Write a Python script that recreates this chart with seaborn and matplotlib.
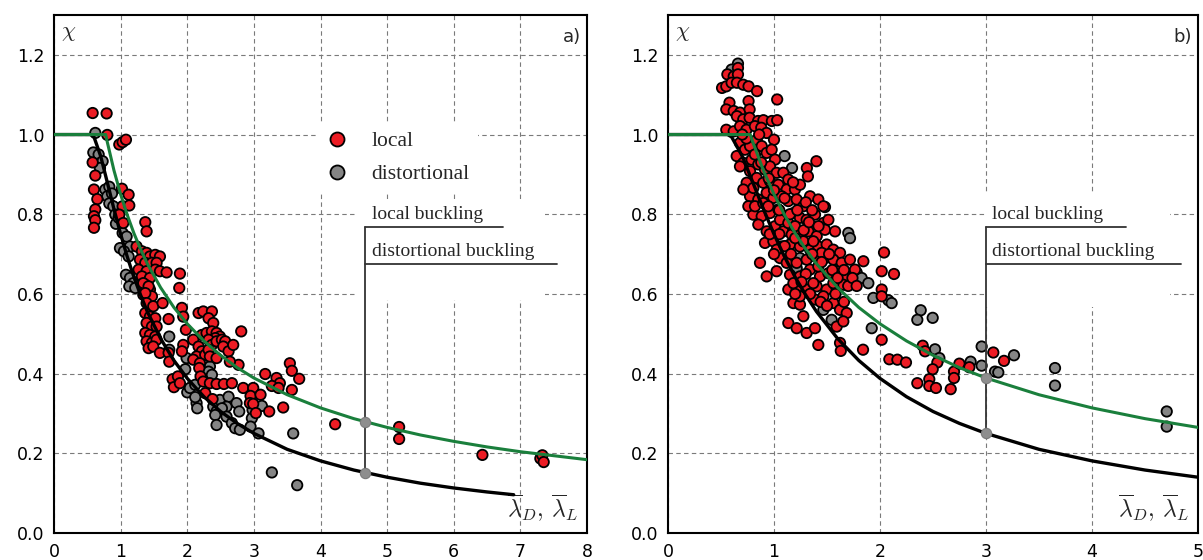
import numpy as np
import pandas as pd
import matplotlib
matplotlib.use("Agg")
import matplotlib.pyplot as plt
from matplotlib.patches import Rectangle
import seaborn as sns

# ---------------- data ----------------
# design curves
lam_L = [0, 0.776, 0.8, 0.9, 1.0, 1.1, 1.2, 1.3, 1.4, 1.6, 1.8, 2.0, 2.25, 2.5, 2.75,
         3.0, 3.5, 4.0, 4.5, 5.0, 5.5, 6.0, 6.5, 7.0, 7.5, 8.0]
chi_L = [1.0, 1.0, 0.981, 0.910, 0.850, 0.798, 0.752, 0.712, 0.676, 0.616, 0.566, 0.525,
         0.482, 0.446, 0.415, 0.389, 0.347, 0.314, 0.287, 0.265, 0.246, 0.230, 0.216,
         0.204, 0.194, 0.184]
lam_D = [0, 0.561, 0.6, 0.7, 0.8, 0.9, 1.0, 1.1, 1.2, 1.3, 1.4, 1.6, 1.8, 2.0, 2.25,
         2.5, 2.75, 3.0, 3.5, 4.0, 4.5, 5.0, 5.5, 6.0, 6.5, 6.9]
chi_D = [1.0, 1.0, 0.994, 0.946, 0.880, 0.813, 0.750, 0.693, 0.642, 0.597, 0.556, 0.488,
         0.433, 0.388, 0.342, 0.305, 0.275, 0.250, 0.210, 0.181, 0.158, 0.140, 0.125,
         0.113, 0.103, 0.096]

# marked slenderness with the values on both curves
mark_a = (4.67, 0.279, 0.151)
mark_b = (3.0, 0.389, 0.250)

a_local = [
    (0.58, 1.054), (0.79, 1.053), (0.80, 0.999), (0.98, 0.975), (1.03, 0.981), (1.08, 0.987),
    (0.58, 0.930), (0.62, 0.897), (0.60, 0.862), (0.65, 0.838), (0.62, 0.812), (0.60, 0.795),
    (0.62, 0.785), (0.60, 0.766), (1.02, 0.864), (1.12, 0.849), (1.03, 0.820), (1.13, 0.822),
    (0.98, 0.799), (1.04, 0.778), (1.37, 0.780), (1.39, 0.757), (1.24, 0.719), (1.32, 0.707),
    (1.39, 0.703), (1.44, 0.694), (1.52, 0.698), (1.59, 0.694), (1.29, 0.686), (1.37, 0.678),
    (1.47, 0.678), (1.54, 0.678), (1.27, 0.661), (1.39, 0.657), (1.52, 0.661), (1.59, 0.657),
    (1.69, 0.654), (1.32, 0.644), (1.44, 0.640), (1.37, 0.623), (1.44, 0.611), (1.34, 0.598),
    (1.47, 0.594), (1.89, 0.651), (1.88, 0.615), (1.34, 0.627), (1.42, 0.619), (1.37, 0.602),
    (1.39, 0.577), (1.49, 0.569), (1.37, 0.552), (1.44, 0.543), (1.52, 0.539), (1.39, 0.527),
    (1.47, 0.518), (1.54, 0.518), (1.37, 0.502), (1.44, 0.497), (1.52, 0.493), (1.39, 0.481),
    (1.47, 0.477), (1.54, 0.485), (1.42, 0.464), (1.49, 0.468), (1.63, 0.577), (1.92, 0.565),
    (1.94, 0.543), (1.72, 0.537), (1.59, 0.452), (1.72, 0.452), (1.73, 0.430), (1.98, 0.510),
    (2.17, 0.552), (2.24, 0.556), (2.37, 0.556), (2.32, 0.539), (2.39, 0.527), (2.81, 0.506),
    (2.22, 0.497), (2.29, 0.502), (2.37, 0.506), (2.44, 0.502), (2.49, 0.493), (2.42, 0.489),
    (2.32, 0.485), (2.37, 0.472), (2.44, 0.481), (2.52, 0.485), (2.57, 0.481), (2.54, 0.468),
    (2.62, 0.456), (2.69, 0.472), (2.09, 0.485), (2.17, 0.468), (2.22, 0.456), (2.14, 0.443),
    (2.27, 0.447), (2.32, 0.460), (2.34, 0.443), (2.09, 0.435), (2.19, 0.426), (2.44, 0.439),
    (2.77, 0.422), (2.64, 0.430), (1.94, 0.472), (1.92, 0.456), (2.18, 0.414), (2.20, 0.393),
    (2.24, 0.380), (2.34, 0.376), (2.44, 0.374), (2.55, 0.374), (2.67, 0.376), (2.84, 0.364),
    (1.78, 0.386), (1.86, 0.393), (1.80, 0.366), (1.89, 0.376), (2.27, 0.351), (2.38, 0.336),
    (2.99, 0.364), (2.95, 0.344), (3.10, 0.347), (2.94, 0.326), (2.99, 0.324), (3.03, 0.301),
    (3.23, 0.305), (3.44, 0.315), (3.17, 0.399), (3.34, 0.389), (3.39, 0.376), (3.27, 0.369),
    (3.37, 0.364), (3.54, 0.426), (3.57, 0.407), (3.68, 0.387), (3.57, 0.359), (4.22, 0.273),
    (5.18, 0.266), (5.18, 0.236), (6.43, 0.196), (7.30, 0.187), (7.33, 0.195), (7.35, 0.178),
]
a_dist = [
    (0.62, 1.004), (0.59, 0.955), (0.67, 0.950), (0.70, 0.929), (0.73, 0.933), (0.69, 0.916),
    (0.77, 0.862), (0.83, 0.869), (0.80, 0.845), (0.87, 0.852), (0.83, 0.827), (0.89, 0.820),
    (0.92, 0.799), (0.93, 0.776), (0.97, 0.791), (1.03, 0.753), (1.09, 0.744), (1.14, 0.719),
    (0.99, 0.715), (1.05, 0.707), (1.12, 0.694), (1.08, 0.648), (1.14, 0.640), (1.19, 0.627),
    (1.13, 0.619), (1.22, 0.615), (1.73, 0.493), (1.73, 0.460), (1.99, 0.439), (1.97, 0.411),
    (2.29, 0.430), (2.34, 0.418), (2.32, 0.405), (2.37, 0.397), (2.00, 0.353), (2.04, 0.364),
    (2.12, 0.372), (2.14, 0.326), (2.15, 0.313), (2.12, 0.341), (2.39, 0.317), (2.44, 0.305),
    (2.49, 0.334), (2.62, 0.342), (2.59, 0.317), (2.52, 0.313), (2.42, 0.296), (2.44, 0.271),
    (2.59, 0.292), (2.67, 0.276), (2.72, 0.263), (2.79, 0.259), (2.74, 0.326), (2.78, 0.305),
    (2.98, 0.309), (3.12, 0.319), (2.97, 0.288), (2.95, 0.267), (3.07, 0.250), (3.59, 0.250),
    (3.27, 0.152), (3.65, 0.120),
]
b_local = [
    (0.66, 1.167), (0.56, 1.151), (0.62, 1.146), (0.66, 1.151), (0.51, 1.117), (0.55, 1.121),
    (0.60, 1.130), (0.65, 1.130), (0.71, 1.125), (0.76, 1.121), (0.84, 1.109), (1.03, 1.088),
    (0.58, 1.080), (0.76, 1.084), (0.55, 1.063), (0.62, 1.059), (0.68, 1.055), (0.77, 1.063),
    (0.65, 1.046), (0.71, 1.038), (0.77, 1.042), (0.85, 1.034), (0.90, 1.036), (0.98, 1.034),
    (1.03, 1.036), (0.55, 1.012), (0.62, 1.008), (0.68, 1.021), (0.74, 1.012), (0.82, 1.021),
    (0.88, 1.017), (0.93, 1.004), (1.00, 0.987), (1.40, 0.933), (1.31, 0.916), (1.32, 0.895),
    (0.679, 0.979), (0.726, 0.962), (0.774, 0.971), (0.837, 0.987), (0.884, 0.971), (0.931, 0.954),
    (0.978, 0.962), (1.010, 0.937), (0.648, 0.946), (0.711, 0.929), (0.789, 0.937), (0.852, 0.925),
    (0.915, 0.912), (0.962, 0.920), (1.025, 0.904), (1.088, 0.904), (1.135, 0.887), (0.679, 0.920),
    (0.774, 0.908), (0.837, 0.891), (0.899, 0.879), (0.962, 0.883), (1.041, 0.874), (1.120, 0.862),
    (1.198, 0.862), (1.245, 0.874), (0.774, 0.845), (0.852, 0.837), (0.931, 0.854), (0.994, 0.841),
    (1.072, 0.845), (1.135, 0.833), (1.214, 0.837), (1.277, 0.820), (1.340, 0.845), (1.418, 0.837),
    (1.466, 0.820), (0.805, 0.799), (0.884, 0.795), (0.962, 0.803), (1.041, 0.812), (1.104, 0.795),
    (1.183, 0.803), (1.245, 0.791), (1.308, 0.786), (1.387, 0.799), (1.466, 0.778), (1.513, 0.786),
    (0.852, 0.774), (0.931, 0.757), (1.010, 0.770), (1.088, 0.757), (1.167, 0.749), (1.245, 0.753),
    (1.324, 0.757), (1.403, 0.745), (1.481, 0.761), (1.576, 0.757), (0.915, 0.728), (0.994, 0.732),
    (1.072, 0.719), (1.151, 0.724), (1.245, 0.719), (1.340, 0.711), (1.418, 0.719), (1.497, 0.724),
    (1.560, 0.711), (1.623, 0.703), (0.868, 0.678), (1.057, 0.690), (1.120, 0.678), (1.214, 0.678),
    (1.308, 0.686), (1.387, 0.694), (1.481, 0.690), (1.560, 0.686), (1.639, 0.678), (1.717, 0.686),
    (1.843, 0.682), (1.025, 0.657), (0.931, 0.644), (1.151, 0.648), (1.245, 0.644), (1.340, 0.661),
    (1.434, 0.644), (1.513, 0.652), (1.591, 0.657), (1.686, 0.644), (1.764, 0.661), (1.135, 0.611),
    (1.214, 0.611), (1.308, 0.611), (1.403, 0.619), (1.497, 0.611), (1.591, 0.615), (1.654, 0.623),
    (1.183, 0.577), (1.245, 0.573), (1.387, 0.586), (1.560, 0.577), (1.623, 0.560), (1.686, 0.552),
    (1.277, 0.544), (1.135, 0.527), (1.214, 0.514), (1.308, 0.502), (1.387, 0.514), (1.591, 0.518),
    (1.654, 0.531), (1.418, 0.472), (1.623, 0.477), (2.016, 0.485), (0.742, 0.879), (0.805, 0.866),
    (0.711, 0.862), (0.758, 0.820), (0.821, 0.820), (0.899, 0.828), (0.946, 0.820), (1.057, 0.786),
    (1.135, 0.778), (1.198, 0.770), (1.277, 0.732), (1.371, 0.732), (1.450, 0.703), (1.025, 0.711),
    (1.418, 0.669), (1.183, 0.627), (1.371, 0.627), (1.245, 0.594), (1.466, 0.594), (1.560, 0.627),
    (2.038, 0.704), (2.016, 0.657), (2.132, 0.650), (2.016, 0.611), (2.016, 0.594), (2.403, 0.470),
    (2.425, 0.456), (2.541, 0.428), (2.497, 0.411), (2.088, 0.436), (2.164, 0.435), (2.245, 0.428),
    (2.352, 0.376), (2.465, 0.386), (2.465, 0.369), (2.528, 0.364), (2.698, 0.405), (2.698, 0.389),
    (2.667, 0.361), (2.749, 0.425), (2.843, 0.416), (3.069, 0.453), (3.170, 0.432), (1.84, 0.46),
    (1.63, 0.457), (1.05, 0.75), (1.10, 0.72), (1.16, 0.70), (1.20, 0.74), (1.28, 0.76),
    (1.33, 0.78), (1.36, 0.70), (1.42, 0.77), (1.45, 0.68), (1.52, 0.70), (1.55, 0.66),
    (1.60, 0.64), (1.66, 0.66), (1.70, 0.62), (1.74, 0.64), (1.78, 0.62), (1.30, 0.65),
    (1.26, 0.63), (1.20, 0.60), (1.34, 0.60), (1.44, 0.58), (1.50, 0.57), (1.58, 0.60),
    (1.66, 0.58), (1.05, 0.81), (1.00, 0.86), (0.95, 0.89), (0.88, 0.93), (0.82, 0.95),
    (0.74, 0.99), (0.70, 1.00), (0.86, 1.00), (1.15, 0.80), (1.22, 0.81), (1.30, 0.83),
    (1.36, 0.81), (1.10, 0.84), (1.18, 0.88), (0.96, 0.75), (1.00, 0.70),
]
b_dist = [
    (0.66, 1.178), (0.60, 1.163), (1.10, 0.946), (1.17, 0.916), (1.701, 0.753), (1.717, 0.740),
    (1.780, 0.654), (1.827, 0.640), (1.890, 0.627), (1.937, 0.590), (2.079, 0.584), (2.110, 0.577),
    (1.245, 0.690), (1.214, 0.665), (1.466, 0.560), (1.544, 0.535), (1.922, 0.514), (1.481, 0.818),
    (2.384, 0.559), (2.352, 0.535), (2.497, 0.540), (2.519, 0.461), (2.560, 0.439), (2.855, 0.430),
    (2.959, 0.468), (2.959, 0.420), (3.085, 0.405), (3.116, 0.403), (3.264, 0.446), (3.651, 0.414),
    (3.651, 0.370), (4.705, 0.305), (4.705, 0.267),
]
x_ticks_a = [0, 1, 2, 3, 4, 5, 6, 7, 8]
x_ticks_b = [0, 1, 2, 3, 4, 5]
y_ticks = [0.0, 0.2, 0.4, 0.6, 0.8, 1.0, 1.2]
labels = ["local", "distortional"]

# ---------------- style ----------------
sns.set_theme(style="white")
plt.rcParams["font.family"] = ["DejaVu Sans"]
plt.rcParams["mathtext.fontset"] = "cm"
SERIF = ["Liberation Serif", "DejaVu Serif"]
RED = "#ec1c24"
GREY = "#858585"
GREEN = "#1a7f3c"


def frame(pts_local, pts_dist):
    d = pd.DataFrame(pts_dist, columns=["lam", "chi"]).assign(kind=labels[1])
    l = pd.DataFrame(pts_local, columns=["lam", "chi"]).assign(kind=labels[0])
    return pd.concat([d, l], ignore_index=True)


fig = plt.figure(figsize=(12.03, 5.6), dpi=100)
ax1 = fig.add_axes([54 / 1203, 27 / 560, 533 / 1203, 518 / 560])
ax2 = fig.add_axes([668 / 1203, 27 / 560, 530 / 1203, 518 / 560])


def panel(ax, pts_local, pts_dist, xticks, mark, tag, under_ends, box, legend):
    df = frame(pts_local, pts_dist)
    sns.scatterplot(data=df, x="lam", y="chi", hue="kind", hue_order=labels,
                    palette={labels[0]: RED, labels[1]: GREY}, s=56,
                    edgecolor="black", linewidth=1.3, ax=ax, legend=legend, zorder=3)
    sns.lineplot(x=lam_D, y=chi_D, sort=False, estimator=None, color="black",
                 lw=2.4, ax=ax, zorder=4)
    sns.lineplot(x=lam_L, y=chi_L, sort=False, estimator=None, color=GREEN,
                 lw=2.2, ax=ax, zorder=5)
    ax.set_xlim(xticks[0], xticks[-1])
    ax.set_ylim(0, 1.3)
    ax.set_xticks(xticks)
    ax.set_yticks(y_ticks)
    ax.set_yticklabels([f"{v:.1f}" for v in y_ticks])
    ax.set_xlabel("")
    ax.set_ylabel("")
    ax.set_axisbelow(True)
    ax.grid(True, linestyle=(0, (4, 3)), color="#7a7a7a", lw=0.8)
    for sp in ax.spines.values():
        sp.set_linewidth(1.5)
        sp.set_color("black")
    ax.tick_params(direction="out", length=5, width=1.3, labelsize=12.5,
                   colors="black", pad=2)
    # white box behind annotation texts
    ax.add_patch(Rectangle((box[0], box[1]), box[2], box[3], transform=ax.transAxes,
                           facecolor="white", edgecolor="none", zorder=1))
    # annotation
    lam_m, y_l, y_d = mark
    y_u1, y_u2 = 0.769, 0.676
    ax.plot([lam_m, lam_m], [y_d, y_u1], color="#333333", lw=1.3, zorder=6)
    ax.plot([lam_m, under_ends[0]], [y_u1, y_u1], color="#333333", lw=1.3, zorder=6)
    ax.plot([lam_m, under_ends[1]], [y_u2, y_u2], color="#333333", lw=1.3, zorder=6)
    dx = (xticks[-1] - xticks[0]) * 0.012
    ax.text(lam_m + dx, y_u1 + 0.01, "local buckling", family=SERIF, fontsize=14,
            va="bottom", ha="left", zorder=7)
    ax.text(lam_m + dx, y_u2 + 0.01, "distortional buckling", family=SERIF, fontsize=14,
            va="bottom", ha="left", zorder=7)
    ax.scatter([lam_m, lam_m], [y_l, y_d], s=55, color="#8e8e8e", edgecolor="#7a7a7a",
               linewidth=0.8, zorder=8)
    ax.text(0.013, 0.985, r"$\chi$", transform=ax.transAxes, fontsize=16,
            va="top", ha="left")
    ax.text(0.988, 0.975, tag, transform=ax.transAxes, fontsize=13,
            va="top", ha="right")
    ax.text(0.985, 0.018, r"$\overline{\lambda}_D,\,\overline{\lambda}_L$",
            transform=ax.transAxes, fontsize=17, va="bottom", ha="right")


panel(ax1, a_local, a_dist, x_ticks_a, mark_a, "a)", (6.74, 7.55),
      (0.569, 0.45, 0.352, 0.195), True)
panel(ax2, b_local, b_dist, x_ticks_b, mark_b, "b)", (4.32, 4.84),
      (0.598, 0.436, 0.349, 0.22), False)

handles, labs = ax1.get_legend_handles_labels()
ax1.legend(handles[:2], labs[:2], loc="upper left", bbox_to_anchor=(0.495, 0.792),
           borderaxespad=0, borderpad=0.4, frameon=True, facecolor="white",
           edgecolor="none", framealpha=1, prop={"family": SERIF, "size": 15.5},
           markerscale=1.35, handlelength=1.0, handletextpad=1.1, labelspacing=0.6)

fig.savefig("out.png", dpi=100)
